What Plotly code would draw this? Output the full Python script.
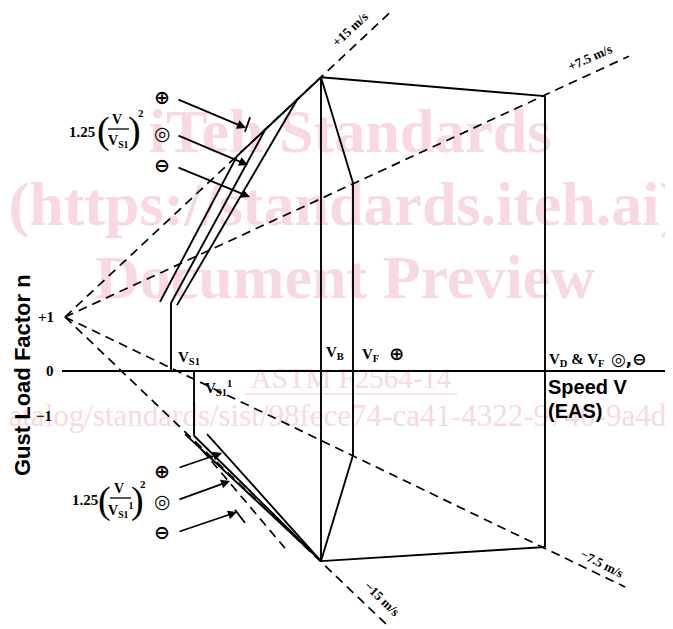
import plotly.graph_objects as go

W, H = 673, 629

# ── Diagram values (speed V in arbitrary EAS units, n = gust load factor) ─────
V_S1, V_S1_NEG, V_B, V_F, V_D = 41.4, 50.4, 100.0, 112.5, 187.5
N_S1, N_S1_NEG = 1.26, -1.20
N_TOP    = [5.44, 3.48, 5.09]      # n at V_B, V_F, V_D (positive gusts)
N_BOTTOM = [-3.52, -1.56, -3.26]   # n at V_B, V_F, V_D (negative gusts)
AXIS_V   = [-1.2, 240.0]           # speed axis (n = 0)

# gust lines all start at V = 0, n = +1
GUST_LABELS = ["+15 m/s", "+7.5 m/s", "\u221215 m/s", "\u22127.5 m/s"]
GUST_END_V  = [128.1, 220.3, 126.6, 218.8]
GUST_END_N  = [6.69, 5.83, -4.74, -4.00]

# 1.25 (V/VS1)^2 lines, positive side
POS_PLUS_V,  POS_PLUS_N  = [37.1, 67.2, 100.0], [1.28, 3.98, 5.44]
POS_RING_V,  POS_RING_N  = [41.4, 78.1], [1.26, 4.46]
POS_MINUS_V, POS_MINUS_N = [43.75, 90.6], [1.22, 5.02]
POS_TICK_V,  POS_TICK_N  = [70.3, 72.3], [4.43, 4.70]

# 1.25 (V/VS1')^2 lines, negative side
NEG_PLUS_V,  NEG_PLUS_N  = [46.9, 100.0], [-1.17, -3.52]
NEG_RING_V,  NEG_RING_N  = [50.4, 100.0], [-1.20, -3.52]
NEG_MINUS_V, NEG_MINUS_N = [55.5, 100.0], [-1.17, -3.52]
NEG_DASH_V,  NEG_DASH_N  = [53.5, 85.9], [-1.46, -3.28]
NEG_TICK_V,  NEG_TICK_N  = [66.4, 70.3], [-2.57, -2.81]

# ── Page geometry (window pixels; the page body adds an 8 px margin) ─────────
OFF = 8
ORIGIN_PX, PX_PER_V = 65, 2.56     # where V = 0 sits, pixels per speed unit
N0_PX, PX_PER_N     = 371, 54      # where n = 0 sits, pixels per unit n

SERIF = "Liberation Serif"
SANS  = "Liberation Sans"
SYM   = "DejaVu Sans"
PINK  = "#f8d9e2"
SOLID = dict(color="black", width=1.9)
DASH  = dict(color="black", width=1.7, dash="9px,6px")


def paper(xp, yp):
    return (xp - OFF) / W, 1 - (yp - OFF) / H


def data_xy(xp, yp):
    return (xp - ORIGIN_PX) / PX_PER_V, (N0_PX - yp) / PX_PER_N


fig = go.Figure()

# ── Watermark (drawn first so the lines sit on top) ───────────────────────────
for xp, yp, txt, size, pos, bold in [
    (350, 136, "iTeh Standards", 62, "middle center", True),
    (8.5, 209, "(https://standards.iteh.ai)", 62, "middle right", True),
    (345, 282, "Document Preview", 62, "middle center", True),
    (351, 381, "ASTM F2564-14", 29, "middle center", False),
    (8.5, 418, "atalog/standards/sist/98fece74-ca41-4322-9740-9a4d4", 31, "middle right", False),
]:
    x, y = data_xy(xp, yp)
    fig.add_trace(go.Scatter(
        x=[x], y=[y], mode="text", text=[f"<b>{txt}</b>" if bold else txt],
        textposition=pos, cliponaxis=False, hoverinfo="skip",
        textfont=dict(family=SERIF, size=size, color=PINK),
    ))
ux0, uy = paper(245, 394)
ux1, _ = paper(457, 394)
fig.add_shape(type="line", xref="paper", yref="paper", x0=ux0, x1=ux1, y0=uy, y1=uy,
              line=dict(color=PINK, width=1.5), layer="below")


def seg(v, n, line):
    fig.add_trace(go.Scatter(x=v, y=n, mode="lines", line=line, hoverinfo="skip"))


# speed axis
seg(AXIS_V, [0, 0], SOLID)

# gust lines
for ev, en in zip(GUST_END_V, GUST_END_N):
    seg([0, ev], [1, en], DASH)

# envelope
seg([V_B, V_D], [N_TOP[0], N_TOP[2]], SOLID)
seg([V_B, V_F], [N_TOP[0], N_TOP[1]], SOLID)
seg([V_B, V_D], [N_BOTTOM[0], N_BOTTOM[2]], SOLID)
seg([V_B, V_F], [N_BOTTOM[0], N_BOTTOM[1]], SOLID)
seg([V_B, V_B], [N_TOP[0], N_BOTTOM[0]], SOLID)
seg([V_F, V_F], [N_TOP[1], N_BOTTOM[1]], SOLID)
seg([V_D, V_D], [N_TOP[2], N_BOTTOM[2]], SOLID)
seg([V_S1, V_S1], [0, N_S1], SOLID)
seg([V_S1_NEG, V_S1_NEG], [0, N_S1_NEG], SOLID)

# stall lines
seg(POS_PLUS_V, POS_PLUS_N, SOLID)
seg(POS_RING_V, POS_RING_N, SOLID)
seg(POS_MINUS_V, POS_MINUS_N, SOLID)
seg(POS_TICK_V, POS_TICK_N, SOLID)
seg(NEG_PLUS_V, NEG_PLUS_N, SOLID)
seg(NEG_RING_V, NEG_RING_N, SOLID)
seg(NEG_MINUS_V, NEG_MINUS_N, SOLID)
seg(NEG_DASH_V, NEG_DASH_N, DASH)
seg(NEG_TICK_V, NEG_TICK_N, SOLID)


def label(xp, yp, text, size=14, family=SERIF, angle=0, anchor="center"):
    x, y = paper(xp, yp)
    fig.add_annotation(x=x, y=y, xref="paper", yref="paper", text=text, showarrow=False,
                       font=dict(size=size, family=family, color="black"),
                       textangle=angle, xanchor=anchor, yanchor="middle")


def arrow(tail, head):
    x, y = paper(*head)
    fig.add_annotation(x=x, y=y, xref="paper", yref="paper", text="",
                       ax=tail[0] - head[0], ay=tail[1] - head[1],
                       showarrow=True, arrowhead=2, arrowsize=1, arrowwidth=1.8,
                       arrowcolor="black", standoff=0)


def bar(x0, x1, yp):
    a, y = paper(x0, yp)
    b, _ = paper(x1, yp)
    fig.add_shape(type="line", xref="paper", yref="paper", x0=a, x1=b, y0=y, y1=y,
                  line=dict(color="black", width=1.3))


# gust labels
for (xp, yp, ang), txt in zip([(350, 30, -43), (590, 58, -24), (382, 598, 44), (602, 563, 27)],
                              GUST_LABELS):
    label(xp, yp, f"<b>{txt}</b>", size=13, angle=ang)

# n ticks
label(46, 317, "<b>+1</b>", size=15)
label(50, 371, "<b>0</b>", size=15)
label(44, 416, "<b>\u22121</b>", size=15)
label(22, 375, "<b>Gust Load Factor n</b>", size=22, family=SANS, angle=-90)

# speed labels
label(189, 358, "<b>V<sub>S1</sub></b>", size=15)
label(218, 388, "<b>V<sub>S1</sub><sup>1</sup></b>", size=15)
label(335, 353, "<b>V<sub>B</sub></b>", size=15)
label(370, 355, "<b>V<sub>F</sub></b>", size=15)
label(397, 353, "<b>\u2295</b>", size=18, family=SYM)
label(576, 360, "<b>V<sub>D</sub> & V<sub>F</sub></b>", size=15)
label(629, 359, "<b>\u25CE,\u2296</b>", size=17, family=SYM)
label(546, 387, "<b>Speed V</b>", size=20, family=SANS, anchor="left")
label(546, 411, "<b>(EAS)</b>", size=20, family=SANS, anchor="left")

# 1.25 (V/VS1)^2, positive side
label(82, 132, "<b>1.25</b>", size=15)
label(103, 131, "(", size=38)
label(117, 120, "<b>V</b>", size=14)
bar(108, 129, 129)
label(118, 141, "<b>V<sub>S1</sub></b>", size=14)
label(134, 131, ")", size=38)
label(141, 113, "<b>2</b>", size=11)
for yp, sym in [(97, "\u2295"), (133, "\u25CE"), (165, "\u2296")]:
    label(162, yp, f"<b>{sym}</b>", size=19, family=SYM)
arrow((177, 99), (246, 128))
arrow((177, 135), (248, 165))
arrow((177, 167), (250, 197))

# 1.25 (V/VS1')^2, negative side
label(85, 500, "<b>1.25</b>", size=15)
label(105, 500, "(", size=38)
label(119, 489, "<b>V</b>", size=14)
bar(110, 131, 498)
label(120, 510, "<b>V<sub>S1</sub><sup>1</sup></b>", size=14)
label(137, 500, ")", size=38)
label(143, 484, "<b>2</b>", size=11)
for yp, sym in [(471, "\u2295"), (501, "\u25CE"), (532, "\u2296")]:
    label(162, yp, f"<b>{sym}</b>", size=19, family=SYM)
arrow((178, 468), (222, 453))
arrow((178, 500), (230, 481))
arrow((178, 532), (237, 512))

x_lo, y_hi = data_xy(OFF, OFF)
x_hi, y_lo = data_xy(W + OFF, H + OFF)
fig.update_layout(
    width=W, height=H,
    margin=dict(l=0, r=0, t=0, b=0, autoexpand=False),
    paper_bgcolor="white", plot_bgcolor="white",
    showlegend=False,
    xaxis=dict(range=[x_lo, x_hi], visible=False, fixedrange=True),
    yaxis=dict(range=[y_lo, y_hi], visible=False, fixedrange=True),
)

fig.write_html("out.html")
